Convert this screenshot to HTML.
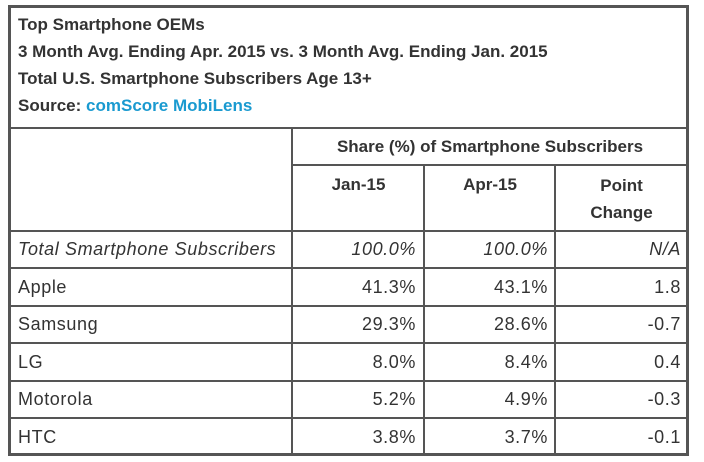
<!DOCTYPE html>
<html><head><meta charset="utf-8"><style>
body{margin:0;width:704px;height:462px;background:#fff;position:relative;overflow:hidden;font-family:"Liberation Sans",Arial,sans-serif;color:#333}
.a{position:absolute}
.hl{position:absolute;height:2px;background:#555}
.vl{position:absolute;width:2px;background:#555}
.t{position:absolute;font-size:17px;font-weight:bold;left:18px;line-height:20px}
.c{position:absolute;font-size:17px;line-height:20px}
.r{font-size:18px;letter-spacing:0.6px}
</style></head><body>
<div class="a" style="left:8px;top:5px;width:675px;height:445px;border:3px solid #555"></div>
<div class="t" style="top:15px">Top Smartphone OEMs</div>
<div class="t" style="top:42px">3 Month Avg. Ending Apr. 2015 vs. 3 Month Avg. Ending Jan. 2015</div>
<div class="t" style="top:69px">Total U.S. Smartphone Subscribers Age 13+</div>
<div class="t" style="top:96px">Source: <span style="color:#1a9ad0">comScore MobiLens</span></div>
<div class="hl" style="left:9px;width:678px;top:127px"></div>
<div class="hl" style="left:292px;width:395px;top:164px"></div>
<div class="hl" style="left:9px;width:678px;top:230px"></div>
<div class="hl" style="left:9px;width:678px;top:267px"></div>
<div class="hl" style="left:9px;width:678px;top:305px"></div>
<div class="hl" style="left:9px;width:678px;top:342px"></div>
<div class="hl" style="left:9px;width:678px;top:380px"></div>
<div class="hl" style="left:9px;width:678px;top:417px"></div>
<div class="vl" style="left:291px;top:128px;height:325px"></div>
<div class="vl" style="left:423px;top:165px;height:288px"></div>
<div class="vl" style="left:554px;top:165px;height:288px"></div>
<div class="c" style="left:293px;width:394px;text-align:center;top:137px;font-weight:bold">Share (%) of Smartphone Subscribers</div>
<div class="c" style="left:293px;width:131px;text-align:center;top:175px;font-weight:bold">Jan-15</div>
<div class="c" style="left:425px;width:130px;text-align:center;top:175px;font-weight:bold">Apr-15</div>
<div class="c" style="left:556px;width:131px;text-align:center;top:175px;font-weight:bold;line-height:27px;margin-top:-3px">Point<br>Change</div>
<div id="rows"></div>
<script>
const oems=["Total Smartphone Subscribers","Apple","Samsung","LG","Motorola","HTC"];
const jan=["100.0%","41.3%","29.3%","8.0%","5.2%","3.8%"];
const apr=["100.0%","43.1%","28.6%","8.4%","4.9%","3.7%"];
const chg=["N/A","1.8","-0.7","0.4","-0.3","-0.1"];
const rows=document.getElementById('rows');
oems.forEach((n,i)=>{
  const top=239+i*37.5;
  const it=i===0?'font-style:italic;':'';
  const mk=(txt,style,name)=>{const d=document.createElement('div');d.className='c r';d.style.cssText=style+'top:'+top+'px;'+it;d.textContent=txt;
    
    
    rows.appendChild(d);};
  mk(n,'left:18px;','oem-name');
  mk(jan[i],'left:293px;width:123px;text-align:right;','jan-share');
  mk(apr[i],'left:425px;width:123px;text-align:right;','apr-share');
  mk(chg[i],'left:556px;width:125px;text-align:right;','point-change');
});
</script>
</body></html>
